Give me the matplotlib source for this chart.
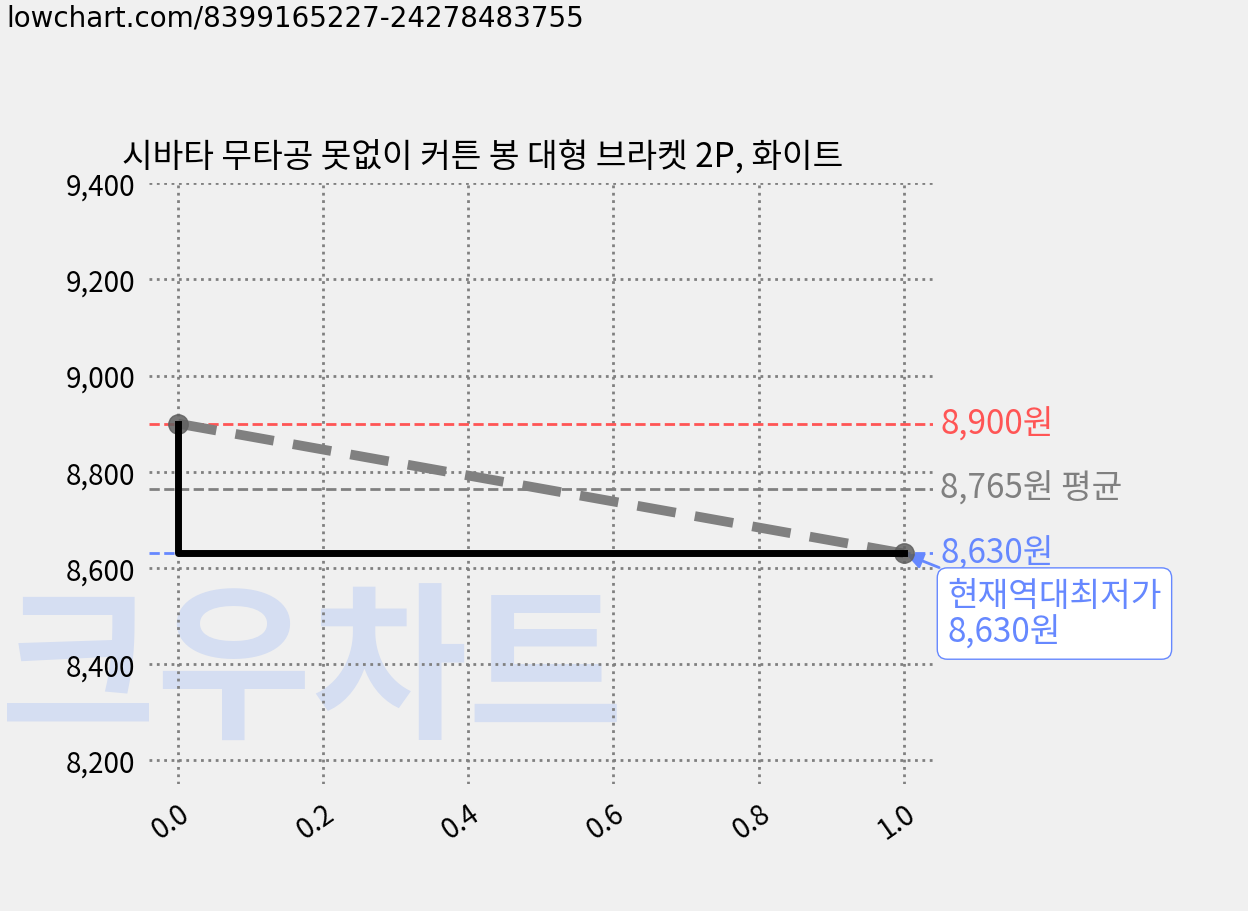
import matplotlib
matplotlib.use("Agg")
import matplotlib.pyplot as plt

plt.rcParams['font.family'] = ['Noto Sans CJK KR', 'DejaVu Sans']

# === Data ===
xs = [0.0, 1.0]
prices = [8900, 8630]
max_price, avg_price, min_price = 8900, 8765, 8630
title = "시바타 무타공 못없이 커튼 봉 대형 브라켓 2P, 화이트"
yticks = [8200, 8400, 8600, 8800, 9000, 9200, 9400]
xticks = [0.0, 0.2, 0.4, 0.6, 0.8, 1.0]

bg = "#f0f0f0"
fig = plt.figure(figsize=(12.48, 9.12), dpi=100, facecolor=bg)
ax = fig.add_axes([0.1194, 0.139, 0.628, 0.659], facecolor=bg)

fig.text(0.005, 0.995, "lowchart.com/8399165227-24278483755", fontsize=20,
         va="top", ha="left", family="DejaVu Sans")
ax.text(0.0, 0.165, "크우차트", fontsize=122, fontweight="black", color="#d5def2",
        ha="left", va="bottom", zorder=0, transform=fig.transFigure, clip_on=False)

ax.axhline(max_price, color="#ff5555", ls="--", lw=2)
ax.axhline(avg_price, color="#808080", ls="--", lw=2)
ax.axhline(min_price, color="#6688ff", ls="--", lw=2)

ax.plot(xs, prices, color="#808080", ls=(0, (4, 2)), lw=7, zorder=3)
ax.plot(xs, prices, "o", color="#606060", ms=14, alpha=0.85, zorder=4)
ax.plot(xs, prices, drawstyle="steps-pre", color="black", lw=5, zorder=5)

ax.text(1.05, max_price, f"{max_price:,}원", color="#ff5555", fontsize=24, va="center")
ax.text(1.05, avg_price, f"{avg_price:,}원 평균", color="#808080", fontsize=24, va="center")
ax.text(1.05, min_price, f"{min_price:,}원", color="#6688ff", fontsize=24, va="center")

ax.annotate(f"현재역대최저가\n{min_price:,}원", xy=(1.0, min_price),
            xytext=(1.06, 8505), fontsize=24, color="#6688ff", va="center",
            linespacing=1.05,
            bbox=dict(boxstyle="round,pad=0.3", fc="white", ec="#6688ff"),
            arrowprops=dict(arrowstyle="-|>", color="#6688ff", lw=2))

ax.set_xlim(-0.04, 1.04)
ax.set_ylim(8150, 9400)
ax.set_yticks(yticks)
ax.set_yticklabels([f"{v:,}" for v in yticks], fontsize=20)
ax.set_xticks(xticks)
ax.set_xticklabels([f"{v:.1f}" for v in xticks], fontsize=20, rotation=35,
                   ha="right", rotation_mode="anchor")
ax.grid(True, color="#808080", ls=":", lw=2)
ax.tick_params(length=0, pad=10)
for s in ax.spines.values():
    s.set_visible(False)
ax.set_title(title, fontsize=24, loc="left", x=-0.035, pad=12)

fig.savefig("out.png", dpi=100, facecolor=bg)
